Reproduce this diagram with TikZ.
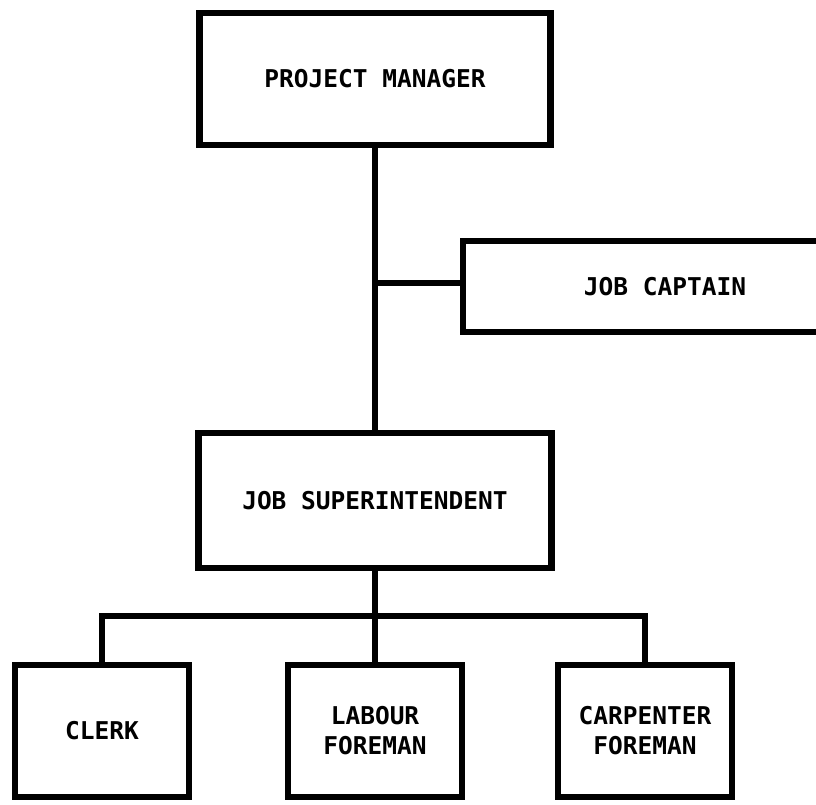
\documentclass[tikz,border=0pt]{standalone}
\usepackage{fontspec}
\setmonofont{DejaVu Sans Mono}
\usetikzlibrary{positioning}
\tikzstyle{post} = [draw, line width=6.5pt, inner sep=0pt, outer sep=0pt, align=center,
                    font=\ttfamily\bfseries\fontsize{24.5}{30}\selectfont]
\tikzstyle{staff} = [post, minimum width=174pt, minimum height=132pt]
\tikzstyle{link} = [line width=5.5pt]

\begin{document}
\begin{tikzpicture}[x=1pt,y=-1pt]
    \clip (0,0) rectangle (816,805);

    \node[post, minimum width=351pt, minimum height=132pt] (pm) at (375,79) {PROJECT MANAGER};
    \node[post, minimum width=404pt, minimum height=91pt] (jc) at (665,286.5) {JOB CAPTAIN};
    \node[post, minimum width=353pt, minimum height=135pt] (js) [below=288pt of pm] {JOB SUPERINTENDENT};

    \node[staff] (labour) [below=97pt of js] {LABOUR\\FOREMAN};
    \node[staff] (clerk) [left=99pt of labour] {CLERK};
    \node[staff] (carp) [right=96pt of labour] {CARPENTER\\FOREMAN};

    \coordinate (tee) at (pm.south |- 0,283);
    \coordinate[below=48pt of js] (fork);

    \draw [link] (pm) -- (js);
    \draw [link] (tee) -- (jc.west |- tee);
    \draw [link] (js) -- (fork);
    \draw [link] (clerk) |- (fork) -| (carp);
    \draw [link] (fork) -- (labour);
\end{tikzpicture}
\end{document}
